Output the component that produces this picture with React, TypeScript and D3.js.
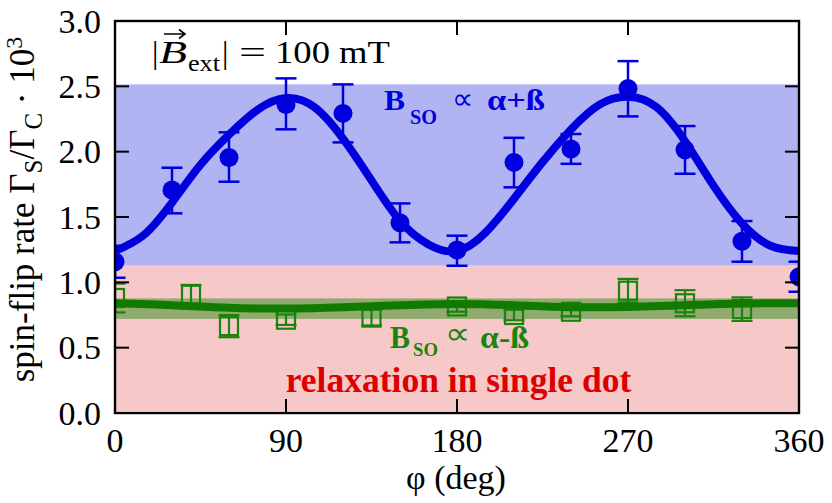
import React from "react";
import * as d3 from "d3";

// ---------- data ----------
const phiBlue = [0, 30, 60, 90, 120, 150, 180, 210, 240, 270, 300, 330, 360];
const rateBlue = [1.157, 1.706, 1.956, 2.36, 2.293, 1.456, 1.247, 1.918, 2.02, 2.484, 2.015, 1.314, 1.043];
const blueHi = [1.28, 1.877, 2.148, 2.561, 2.515, 1.604, 1.357, 2.106, 2.135, 2.693, 2.196, 1.469, 1.158];
const blueLo = [1.035, 1.528, 1.77, 2.171, 2.071, 1.306, 1.127, 1.727, 1.907, 2.27, 1.831, 1.158, 0.928];

const phiGreen = [0, 40, 60, 90, 135, 180, 210, 240, 270, 300, 330];
const rateGreen = [0.88, 0.905, 0.665, 0.714, 0.73, 0.815, 0.75, 0.775, 0.936, 0.84, 0.795];
const errGreen = [0.11, 0.075, 0.085, 0.04, 0.06, 0.04, 0.04, 0.035, 0.09, 0.1, 0.09];

const phiBlueFit = [0, 15, 30, 45, 60, 75, 90, 105, 120, 135, 150, 165, 180, 195, 210, 225, 240, 255, 270, 285, 300, 315, 330, 345, 360];
const blueFit = [1.24, 1.36, 1.61, 1.9, 2.13, 2.32, 2.41, 2.34, 2.1, 1.78, 1.47, 1.29, 1.24, 1.38, 1.64, 1.92, 2.17, 2.36, 2.42, 2.34, 2.08, 1.74, 1.45, 1.28, 1.24];

const phiGreenFit = [0, 30, 60, 90, 120, 150, 180, 210, 240, 270, 300, 330, 360];
const greenFit = [0.84, 0.825, 0.805, 0.8, 0.81, 0.825, 0.835, 0.825, 0.81, 0.812, 0.825, 0.838, 0.84];

const blueBand = [1.127, 2.515];
const pinkBand = [0.015, 1.127];
const greenBand = [0.72, 0.877];

const xTicks = [0, 90, 180, 270, 360];
const yTicks = [0, 0.5, 1.0, 1.5, 2.0, 2.5, 3.0];

// ---------- style ----------
const W = 832;
const H = 503;
const L = 115, R = 799, T = 21, B = 413;
const FONT = "'Liberation Serif', 'Times New Roman', Times, serif";
const BLUE = "#0000dd";
const GREEN = "#1a850a";
const DKGREEN = "#117a00";

export default function App() {
  const x = d3.scaleLinear().domain([0, 360]).range([L, R]);
  const y = d3.scaleLinear().domain([0, 3]).range([B, T]);

  const blueLine = d3
    .line<number>()
    .x((_, i) => x(phiBlueFit[i]))
    .y((d) => y(d))
    .curve(d3.curveNatural)(blueFit) as string;
  const greenLine = d3
    .line<number>()
    .x((_, i) => x(phiGreenFit[i]))
    .y((d) => y(d))
    .curve(d3.curveNatural)(greenFit) as string;

  const cap = 10.5;
  const sq = 18;
  const tickLen = 14;
  const adj = "spacingAndGlyphs";

  return (
    <svg
      width={W}
      height={H}
      viewBox={`0 0 ${W} ${H}`}
      style={{ position: "absolute", left: 0, top: 0, background: "#fff" }}
      fontFamily={FONT}
    >
      <defs>
        <clipPath id="plot">
          <rect x={L} y={T} width={R - L} height={B - T} />
        </clipPath>
      </defs>

      <g clipPath="url(#plot)">
        <rect x={L} y={y(blueBand[1])} width={R - L} height={y(blueBand[0]) - y(blueBand[1])} fill="#b0b4f3" />
        <rect x={L} y={y(pinkBand[1])} width={R - L} height={y(pinkBand[0]) - y(pinkBand[1])} fill="#f6c8c8" />
        <rect x={L} y={y(greenBand[1])} width={R - L} height={y(greenBand[0]) - y(greenBand[1])} fill="#90aa70" />

        {/* green markers */}
        {phiGreen.map((p, i) => {
          const cx = x(p);
          const cy = y(rateGreen[i]);
          const yt = y(rateGreen[i] + errGreen[i]);
          const yb = y(rateGreen[i] - errGreen[i]);
          return (
            <g key={"g" + i} stroke={GREEN} strokeWidth={2.2} fill="none">
              <line x1={cx} x2={cx} y1={yt} y2={yb} />
              <line x1={cx - cap} x2={cx + cap} y1={yt} y2={yt} />
              <line x1={cx - cap} x2={cx + cap} y1={yb} y2={yb} />
              <rect x={cx - sq / 2} y={cy - sq / 2} width={sq} height={sq} />
            </g>
          );
        })}
        <path d={greenLine} fill="none" stroke={DKGREEN} strokeWidth={8} />

        {/* blue fit and markers */}
        <path d={blueLine} fill="none" stroke={BLUE} strokeWidth={8} />
        {phiBlue.map((p, i) => {
          const cx = x(p);
          const yt = y(blueHi[i]);
          const yb = y(blueLo[i]);
          return (
            <g key={"b" + i} stroke={BLUE} strokeWidth={2.5}>
              <line x1={cx} x2={cx} y1={yt} y2={yb} />
              <line x1={cx - cap} x2={cx + cap} y1={yt} y2={yt} />
              <line x1={cx - cap} x2={cx + cap} y1={yb} y2={yb} />
              <circle cx={cx} cy={y(rateBlue[i])} r={9.5} fill={BLUE} stroke="none" />
            </g>
          );
        })}
      </g>

      {/* ticks */}
      <g stroke="#000" strokeWidth={2}>
        {xTicks.map((t) => (
          <g key={"xt" + t}>
            <line x1={x(t)} x2={x(t)} y1={B} y2={B - tickLen} />
            <line x1={x(t)} x2={x(t)} y1={T} y2={T + tickLen} />
          </g>
        ))}
        {yTicks.map((t) => (
          <g key={"yt" + t}>
            <line x1={L} x2={L + tickLen} y1={y(t)} y2={y(t)} />
            <line x1={R} x2={R - tickLen} y1={y(t)} y2={y(t)} />
          </g>
        ))}
      </g>
      <rect x={L} y={T} width={R - L} height={B - T} fill="none" stroke="#000" strokeWidth={2.4} />

      {/* tick labels */}
      <g fontSize={34} fill="#000">
        {xTicks.map((t) => (
          <text key={"xl" + t} x={x(t)} y={451.5} textAnchor="middle">
            {String(t)}
          </text>
        ))}
        {yTicks.map((t) => (
          <text key={"yl" + t} x={101} y={y(t) + 11.5} textAnchor="end">
            {t.toFixed(1)}
          </text>
        ))}
      </g>

      {/* axis titles */}
      <text x={456} y={489} fontSize={34} textAnchor="middle" fill="#000">
        φ (deg)
      </text>
      <text transform="translate(34,209.5) rotate(-90)" fontSize={35} textAnchor="middle" fill="#000">
        spin-flip rate Γ
        <tspan fontSize={25} dy={8}>S</tspan>
        <tspan dy={-8}>/Γ</tspan>
        <tspan fontSize={25} dy={8}>C</tspan>
        <tspan dy={-8}> · 10</tspan>
        <tspan fontSize={24} dy={-12}>3</tspan>
      </text>

      {/* annotation */}
      <g fill="#000" fontSize={32}>
        <text x={152} y={63}>|</text>
        <text x={159} y={63} fontStyle="italic" textLength={28} lengthAdjust={adj}>B</text>
        <text x={188} y={71} fontSize={24} textLength={32} lengthAdjust={adj}>ext</text>
        <text x={222} y={63}>|</text>
        <text x={239} y={63} textLength={27} lengthAdjust={adj}>=</text>
        <text x={275} y={63} textLength={115} lengthAdjust={adj}>100 mT</text>
        <path d="M164,34 H184 M179,29.5 L185,34 L179,38.5" stroke="#000" strokeWidth={1.6} fill="none" />
      </g>

      {/* legend texts */}
      <g fill={BLUE} fontWeight="bold">
        <text x={384} y={110} fontSize={29} textLength={21} lengthAdjust={adj}>B</text>
        <text x={410} y={124} fontSize={20} textLength={27} lengthAdjust={adj}>SO</text>
        <text x={452} y={109} fontSize={30} fontWeight="normal" textLength={21} lengthAdjust={adj}>∝</text>
        <text x={487} y={110} fontSize={30} textLength={58} lengthAdjust={adj}>α+ß</text>
      </g>
      <g fill={GREEN} fontWeight="bold">
        <text x={390} y={348} fontSize={32} textLength={20} lengthAdjust={adj}>B</text>
        <text x={413} y={356} fontSize={19} textLength={25} lengthAdjust={adj}>SO</text>
        <text x={445} y={344} fontSize={31} fontWeight="normal" textLength={25} lengthAdjust={adj}>∝</text>
        <text x={480} y={348} fontSize={32} textLength={49} lengthAdjust={adj}>α-ß</text>
      </g>
      <text x={458.5} y={392} fontSize={35.5} fontWeight="bold" fill="#dd0000" textAnchor="middle">
        relaxation in single dot
      </text>
    </svg>
  );
}
